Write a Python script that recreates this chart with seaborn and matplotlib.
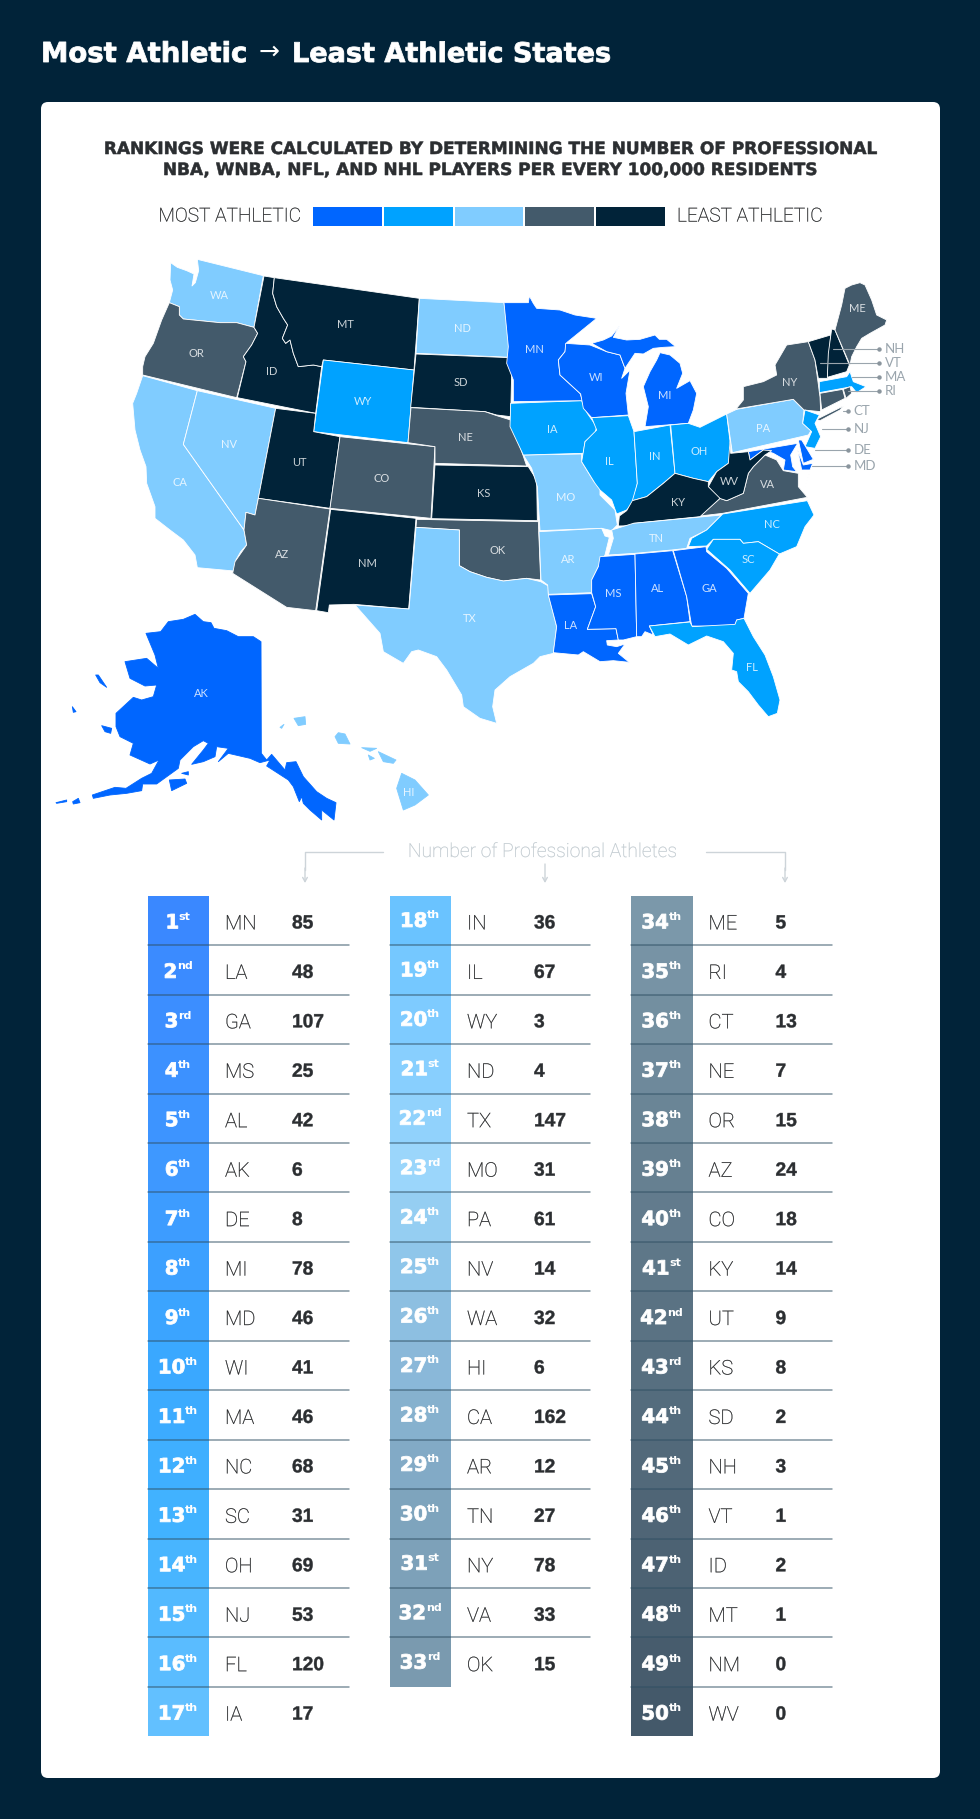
"""
plot.py - Most athletic to least athletic states, map plus ranking table.
"""
import numpy as np
import matplotlib; matplotlib.use("Agg")
import matplotlib.pyplot as plt
import matplotlib.patheffects as pe
from matplotlib.colors import LinearSegmentedColormap, ListedColormap
from matplotlib.patches import FancyBboxPatch
import seaborn as sns

W, H = 980, 1819
NAVY = "#012339"
INK = "#2b2e31"
FONT_LIGHT = "Roboto"
FONT_LABEL = "Lato"
FONT_HEAVY = "DejaVu Sans"
FONT_NUM = "Liberation Sans"

# table data, in rank order
STATES = ["MN", "LA", "GA", "MS", "AL", "AK", "DE", "MI", "MD", "WI", "MA", "NC", "SC", "OH", "NJ", "FL", "IA",
          "IN", "IL", "WY", "ND", "TX", "MO", "PA", "NV", "WA", "HI", "CA", "AR", "TN", "NY", "VA", "OK",
          "ME", "RI", "CT", "NE", "OR", "AZ", "CO", "KY", "UT", "KS", "SD", "NH", "VT", "ID", "MT", "NM", "WV"]
ATHLETES = [85, 48, 107, 25, 42, 6, 8, 78, 46, 41, 46, 68, 31, 69, 53, 120, 17,
            36, 67, 3, 4, 147, 31, 61, 14, 32, 6, 162, 12, 27, 78, 33, 15,
            5, 4, 13, 7, 15, 24, 18, 14, 9, 8, 2, 3, 1, 2, 1, 0, 0]
COLUMN_SIZES = [17, 16, 17]
SUFFIXES = ["st", "nd", "rd"] + ["th"] * 17 + ["st", "nd", "rd"] + ["th"] * 7 + ["st", "nd", "rd"] + ["th"] * 7 \
    + ["st", "nd", "rd"] + ["th"] * 7

TIER_COLORS = ["#0066ff", "#00a2ff", "#80ccff", "#435a6b", "#012339"]
STOP_RANKS = [1, 6, 10, 13, 17, 20, 23, 25, 27, 30, 33, 34, 42, 50]
STOP_COLORS = ["#3a88ff", "#3e98ff", "#3aa8ff", "#41b2ff", "#62c0ff", "#7ecbff", "#9cd6fb", "#8fc6ea", "#8ab8d8",
               "#7ea4bd", "#7a9ab0", "#7b98aa", "#5a7283", "#44596a"]

# state outlines, one dict per crop of the map: (x0, y0) plus 3 units to a pixel
WEST_ORIGIN = (120, 250)
WEST = {
    "WA": [[(152, 38), (172, 52), (200, 62), (222, 72), (216, 108), (226, 98), (236, 62), (232, 28), (430, 77),
            (402, 232), (350, 218), (300, 218), (240, 212), (190, 207), (178, 195), (178, 170), (148, 158),
            (158, 120), (150, 90)]],
    "OR": [[(148, 158), (178, 170), (178, 195), (190, 207), (240, 212), (300, 218), (350, 218), (402, 232), (413, 250),
            (395, 285), (370, 320), (378, 335), (350, 443), (68, 375), (68, 350), (75, 320), (100, 280), (125, 210)]],
    "CA": [[(68, 377), (232, 422), (190, 583), (372, 840), (380, 885), (362, 905), (348, 930), (342, 963), (232, 953),
            (225, 915), (190, 870), (150, 840), (105, 805), (105, 770), (80, 700), (78, 650), (60, 600), (45, 540),
            (38, 460), (50, 430)]],
    "NV": [[(232, 422), (467, 475), (415, 745), (405, 795), (378, 787), (372, 840), (190, 583)]],
    "ID": [[(432, 78), (463, 83), (458, 130), (470, 170), (490, 205), (503, 225), (487, 265), (497, 280), (510, 270),
            (520, 310), (535, 350), (580, 345), (605, 350), (587, 490), (352, 443), (378, 335), (370, 320), (395, 285),
            (413, 250), (402, 232)]],
    "MT": [[(463, 83), (898, 145), (882, 360), (610, 330), (605, 350), (580, 345), (535, 350), (520, 310), (510, 270),
            (497, 280), (487, 265), (503, 225), (490, 205), (470, 170), (458, 130)]],
    "WY": [[(610, 330), (882, 360), (864, 578), (581, 545)]],
    "UT": [[(467, 475), (587, 490), (581, 545), (660, 560), (630, 775), (415, 745)]],
    "CO": [[(660, 560), (945, 590), (933, 805), (630, 775)]],
    "AZ": [[(415, 745), (630, 777), (587, 1082), (500, 1072), (338, 970), (345, 935), (380, 885), (372, 840), (378, 787),
            (405, 795)]],
    "NM": [[(632, 778), (888, 805), (866, 1077), (702, 1063), (628, 1065), (625, 1088), (590, 1082)]],
    "ND": [[(898, 145), (1152, 158), (1172, 322), (888, 310)]],
    "SD": [[(888, 312), (1170, 323), (1165, 345), (1175, 365), (1172, 500), (1130, 495), (1095, 485), (872, 472)]],
    "NE": [[(873, 473), (1095, 485), (1130, 497), (1172, 510), (1190, 560), (1220, 648), (945, 640), (945, 590),
            (864, 578)]],
    "KS": [[(945, 645), (1225, 650), (1250, 690), (1252, 812), (935, 806)]],
}

EAST_ORIGIN = (500, 260)
EAST = {
    "MO": [[(70, 585), (245, 582), (245, 605), (282, 665), (300, 680), (300, 705), (345, 750), (352, 795), (335, 812),
            (305, 805), (120, 812), (112, 680), (95, 625)]],
    "IA": [[(32, 430), (245, 422), (262, 460), (290, 500), (285, 520), (255, 545), (250, 580), (70, 585), (30, 500)]],
    "MN": [[(12, 128), (85, 128), (88, 108), (100, 130), (110, 145), (180, 150), (225, 165), (290, 175), (200, 248),
            (195, 275), (175, 300), (180, 345), (240, 400), (248, 422), (40, 425), (40, 360), (20, 310), (25, 260)]],
    "WI": [[(197, 250), (270, 255), (320, 275), (360, 285), (375, 325), (365, 355), (390, 330), (378, 400), (385, 465),
            (275, 473), (250, 445), (242, 402), (180, 345), (175, 300), (195, 275)]],
    "MI": [[(275, 250), (310, 240), (335, 228), (358, 198), (340, 232), (380, 240), (420, 238), (465, 225), (478, 238),
            (500, 238), (527, 260), (490, 262), (460, 265), (430, 282), (405, 280), (385, 310), (375, 325), (360, 285),
            (320, 275)],
           [(480, 278), (510, 285), (540, 310), (548, 340), (530, 385), (570, 362), (590, 400), (580, 450), (565, 490),
            (435, 500), (445, 440), (430, 380), (450, 335), (470, 300)]],
    "IL": [[(275, 473), (385, 467), (402, 515), (412, 670), (400, 725), (380, 750), (350, 762), (335, 720), (300, 690),
            (285, 670), (245, 605), (255, 545), (290, 510)]],
    "IN": [[(402, 515), (510, 495), (525, 640), (490, 670), (440, 710), (397, 722), (412, 670)]],
    "OH": [[(512, 495), (565, 490), (600, 502), (680, 462), (692, 560), (685, 610), (650, 635), (625, 665), (580, 655),
            (525, 640)]],
    "PA": [[(680, 462), (710, 448), (880, 418), (912, 450), (908, 490), (933, 512), (925, 525), (697, 578)]],
    "NY": [[(708, 447), (730, 420), (730, 380), (790, 365), (830, 345), (825, 315), (860, 255), (925, 245), (945, 300),
            (960, 410), (962, 455), (912, 450), (880, 418)],
           [(950, 478), (1030, 438), (1020, 450), (960, 482)]],
    "VT": [[(925, 245), (992, 225), (982, 355), (955, 355), (945, 300)]],
    "NH": [[(995, 207), (1005, 210), (1048, 315), (1040, 335), (982, 352), (985, 280)]],
    "ME": [[(1005, 210), (1025, 135), (1035, 85), (1055, 75), (1080, 68), (1095, 75), (1115, 120), (1130, 165),
            (1160, 180), (1155, 195), (1110, 220), (1085, 235), (1070, 260), (1055, 290), (1050, 315)]],
    "MA": [[(958, 365), (1040, 350), (1050, 335), (1060, 365), (1098, 380), (1070, 398), (1055, 380), (958, 398)]],
    "CT": [[(960, 400), (1028, 388), (1035, 415), (965, 450)]],
    "RI": [[(1030, 388), (1050, 380), (1055, 400), (1038, 415)]],
    "NJ": [[(915, 450), (958, 465), (945, 490), (962, 530), (945, 565), (915, 560), (935, 515), (908, 490)]],
    "DE": [[(895, 540), (905, 540), (940, 598), (910, 610)]],
    "MD": [[(745, 575), (893, 550), (872, 585), (878, 620), (890, 635), (850, 630), (855, 600), (820, 580), (790, 570),
            (750, 600)],
           [(893, 570), (910, 615), (938, 610), (930, 630), (905, 630)]],
    "VA": [[(600, 768), (660, 715), (680, 722), (730, 700), (745, 640), (760, 620), (795, 585), (830, 600), (850, 632),
            (895, 640), (895, 680), (922, 712), (668, 760)],
           [(930, 635), (915, 680), (928, 640)]],
    "WV": [[(690, 545), (692, 580), (745, 575), (750, 600), (790, 570), (815, 572), (795, 585), (760, 620), (745, 640),
            (730, 700), (680, 722), (650, 712), (625, 680), (650, 635), (685, 610)]],
    "KY": [[(355, 798), (358, 768), (380, 752), (397, 722), (440, 710), (490, 670), (525, 640), (580, 655), (625, 665),
            (625, 680), (660, 715), (600, 770), (400, 790), (398, 797)]],
    "TN": [[(335, 810), (400, 790), (665, 765), (620, 810), (570, 835), (560, 865), (515, 870), (405, 880), (325, 885),
            (340, 835)]],
    "NC": [[(668, 762), (922, 722), (942, 765), (915, 800), (890, 860), (838, 882), (775, 845), (730, 850), (720, 838),
            (640, 838), (620, 858), (565, 860), (575, 835), (620, 810)]],
    "SC": [[(620, 868), (640, 838), (720, 838), (730, 850), (775, 845), (838, 882), (810, 930), (750, 1000), (690, 930)]],
}

SOUTH_ORIGIN = (340, 500)
SOUTH = {
    "OK": [[(230, 58), (595, 65), (602, 240), (560, 235), (490, 243), (440, 232), (390, 215), (358, 197), (358, 90),
            (228, 82)]],
    "TX": [[(228, 82), (358, 90), (358, 197), (390, 215), (440, 232), (490, 243), (560, 235), (602, 245), (625, 258),
            (625, 283), (650, 380), (640, 460), (600, 470), (580, 490), (510, 530), (465, 570), (458, 620), (470, 670),
            (420, 655), (370, 620), (365, 585), (320, 510), (290, 470), (235, 450), (215, 455), (190, 490), (130, 455),
            (120, 400), (45, 315), (207, 327)]],
    "AR": [[(597, 95), (785, 85), (795, 108), (808, 112), (795, 165), (775, 200), (755, 240), (755, 278), (625, 283),
            (623, 255), (603, 240)]],
    "LA": [[(625, 285), (755, 281), (767, 320), (742, 388), (828, 386), (835, 420), (800, 422), (802, 435), (830, 440),
            (855, 432), (835, 460), (868, 487), (820, 482), (780, 485), (730, 455), (715, 465), (640, 458), (650, 380)]],
    "MS": [[(780, 170), (885, 163), (890, 410), (850, 420), (835, 420), (828, 386), (742, 388), (767, 320), (755, 278),
            (755, 240), (775, 200)]],
    "AL": [[(885, 162), (998, 152), (1040, 290), (1050, 365), (928, 378), (940, 405), (915, 395), (905, 410), (890, 410)]],
    "GA": [[(1000, 152), (1098, 140), (1100, 155), (1160, 205), (1225, 280), (1212, 355), (1190, 360), (1185, 380),
            (1055, 378), (1040, 290)]],
    "FL": [[(928, 378), (1050, 366), (1057, 380), (1185, 373), (1190, 360), (1212, 355), (1240, 410), (1275, 465),
            (1300, 530), (1320, 600), (1312, 640), (1285, 650), (1255, 615), (1225, 575), (1195, 545), (1190, 515),
            (1175, 510), (1180, 460), (1150, 425), (1100, 408), (1045, 435), (990, 402), (945, 410)]],
}

PACIFIC_ORIGIN = (40, 580)
PACIFIC = {
    "AK": [[(318, 160), (362, 155), (385, 125), (430, 118), (465, 103), (490, 125), (513, 128), (522, 145), (560, 152),
            (595, 170), (640, 170), (663, 185), (664, 520), (680, 540), (695, 523), (735, 570), (740, 548), (768, 545),
            (790, 590), (830, 635), (860, 655), (888, 668), (882, 720), (845, 690), (845, 720), (810, 690), (790, 670),
            (785, 650), (778, 665), (760, 620), (745, 600), (680, 558), (690, 540), (660, 548), (630, 535), (565, 520),
            (535, 545), (565, 505), (530, 500), (525, 530), (490, 545), (455, 553), (490, 510), (505, 490), (490, 482),
            (460, 500), (420, 540), (415, 565), (350, 612), (308, 612), (305, 632), (260, 640), (210, 645), (160, 655),
            (157, 645), (225, 622), (258, 625), (305, 595), (335, 580), (357, 540), (330, 552), (270, 525), (280, 490),
            (240, 470), (228, 440), (228, 400), (280, 352), (305, 360), (340, 350), (350, 315), (315, 318), (270, 295),
            (255, 245), (320, 235), (355, 265), (345, 225)],
           [(388, 600), (435, 597), (440, 610), (395, 632)],
           [(185, 437), (215, 445), (212, 460), (195, 455)],
           [(167, 285), (175, 285), (200, 322), (180, 308)],
           [(97, 380), (108, 395), (100, 397)],
           [(48, 668), (80, 660), (80, 665), (50, 670)],
           [(98, 665), (115, 655), (120, 668), (100, 672)],
           [(425, 580), (445, 575), (445, 585)]],
    "HI": [[(1085, 580), (1125, 600), (1165, 645), (1125, 675), (1090, 690), (1070, 625)],
           [(1015, 515), (1068, 540), (1060, 550), (1030, 545)],
           [(965, 503), (1010, 505), (990, 514)],
           [(985, 525), (1003, 535), (990, 540)],
           [(895, 458), (915, 462), (930, 492), (895, 490), (885, 470)],
           [(762, 415), (795, 410), (797, 433), (775, 437)],
           [(720, 442), (732, 433), (725, 445)]],
}

MAP_GROUPS = [(WEST_ORIGIN, WEST), (EAST_ORIGIN, EAST), (SOUTH_ORIGIN, SOUTH), (PACIFIC_ORIGIN, PACIFIC)]

# label spots, same crops as above
WEST_LABELS = {"WA": (297, 137), "MT": (677, 223), "ND": (1027, 237), "OR": (228, 311), "ID": (456, 365),
               "SD": (1022, 398), "WY": (728, 455), "NE": (1037, 561), "NV": (328, 582), "UT": (538, 638),
               "CO": (786, 685), "CA": (180, 697), "KS": (1092, 731), "AZ": (485, 912), "NM": (742, 941)}
EAST_LABELS = {"MN": (102, 268), "WI": (288, 352), "MI": (494, 407), "ME": (1073, 145), "NY": (870, 369),
               "IA": (157, 509), "IL": (327, 605), "IN": (465, 588), "OH": (596, 574), "PA": (788, 505),
               "MO": (197, 713), "WV": (688, 664), "VA": (802, 673), "KY": (533, 728), "NC": (815, 792),
               "TN": (469, 835), "AR": (203, 898), "SC": (745, 898), "MS": (341, 1000), "AL": (474, 985),
               "GA": (629, 985), "LA": (212, 1095)}
SOUTH_LABELS = {"OK": (472, 150), "TX": (388, 355), "FL": (1236, 502)}
PACIFIC_LABELS = {"AK": (483, 339), "HI": (1107, 637)}
LABEL_GROUPS = [(WEST_ORIGIN, WEST_LABELS), (EAST_ORIGIN, EAST_LABELS), (SOUTH_ORIGIN, SOUTH_LABELS),
                (PACIFIC_ORIGIN, PACIFIC_LABELS)]

# small north-east states labelled outside the map: name, line start x, y (east crop)
CALLOUT_NAMES = ["NH", "VT", "MA", "RI", "CT", "NJ", "DE", "MD"]
CALLOUT_STARTS = [1000, 960, 1055, 1045, 1030, 965, 945, 935]
CALLOUT_ROWS = [268, 310, 352, 393, 452, 506, 571, 618]
CALLOUT_ENDS = [1138, 1138, 1138, 1138, 1045, 1045, 1045, 1045]

# table layout, pixels
TABLE_TOP = 895.7
ROW_H = 49.45
COL_LEFT = [147.5, 389.5, 631]
STRIP_W = 61.5
COL_RIGHT = [349, 590, 832]
RANK_SHIFT = [2.5, 1, 2.5]


def to_px(origin, pt):
    return origin[0] + pt[0] / 3, origin[1] + pt[1] / 3


def pixel_axes(fig, x0, y0, x1, y1):
    """Axes placed by pixel box, y counted from the top of the picture."""
    return fig.add_axes([x0 / W, 1 - y1 / H, (x1 - x0) / W, (y1 - y0) / H])


def heavy(width, color):
    # snap off, or glyphs made only of straight stems (HI, FL) come out thin
    return [pe.Stroke(linewidth=width, foreground=color, snap=False)]


def draw_header(ax):
    ax.text(41, 62, "Most Athletic", color="white", fontsize=19.8, fontweight="bold", family=FONT_HEAVY, va="baseline",
            path_effects=heavy(0.6, "white"))
    ax.text(269, 52, "\u2192", color="white", fontsize=18, family="DejaVu Sans", ha="center", va="center",
            fontweight="normal")
    ax.text(292, 62, "Least Athletic States", color="white", fontsize=19.5, fontweight="bold", family=FONT_HEAVY,
            va="baseline", path_effects=heavy(0.6, "white"))
    ax.add_patch(FancyBboxPatch((47, 108), 887, 1664, boxstyle="round,pad=6,rounding_size=7", fc="white", ec="none"))
    ax.text(488, 149, "RANKINGS WERE CALCULATED BY DETERMINING THE NUMBER OF PROFESSIONAL", color=INK, fontsize=12.2,
            fontweight="bold", family=FONT_HEAVY, ha="center", va="center", path_effects=heavy(0.4, INK))
    ax.text(488, 170, "NBA, WNBA, NFL, AND NHL PLAYERS PER EVERY 100,000 RESIDENTS", color=INK, fontsize=12.2,
            fontweight="bold", family=FONT_HEAVY, ha="center", va="center", path_effects=heavy(0.4, INK))
    ax.text(301, 216.5, "MOST ATHLETIC", color="#1c1e20", fontsize=13.8, fontweight="light", family=FONT_LIGHT,
            ha="right", va="center", path_effects=heavy(0.2, "#1c1e20"))
    ax.text(677, 216.5, "LEAST ATHLETIC", color="#1c1e20", fontsize=13.8, fontweight="light", family=FONT_LIGHT,
            ha="left", va="center", path_effects=heavy(0.2, "#1c1e20"))


def draw_legend(fig):
    lax = pixel_axes(fig, 312, 206, 666, 227)
    sns.heatmap(np.arange(5).reshape(1, 5), ax=lax, cmap=ListedColormap(TIER_COLORS), cbar=False, xticklabels=False,
                yticklabels=False, linewidths=1.2, linecolor="white")
    lax.set_zorder(3)


def draw_map(ax):
    tier = {s: i // 10 for i, s in enumerate(STATES)}
    for origin, group in MAP_GROUPS:
        for state, rings in group.items():
            for ring in rings:
                pts = np.array([to_px(origin, p) for p in ring])
                face = TIER_COLORS[tier[state]]
                edge = face if origin == PACIFIC_ORIGIN else "white"
                ax.fill(pts[:, 0], pts[:, 1], fc=face, ec=edge, lw=0.6, joinstyle="round", zorder=2)
    for origin, labels in LABEL_GROUPS:
        for state, spot in labels.items():
            x, y = to_px(origin, spot)
            ax.text(x, y, state, color="white", alpha=0.8, fontsize=8, family=FONT_LABEL, ha="center", va="center",
                    zorder=3)
    for name, x0, row, x1 in zip(CALLOUT_NAMES, CALLOUT_STARTS, CALLOUT_ROWS, CALLOUT_ENDS):
        xs, y = to_px(EAST_ORIGIN, (x0, row))
        xe, _ = to_px(EAST_ORIGIN, (x1, row))
        ax.plot([xs, xe], [y, y], color="#9aa5ad", lw=0.8, zorder=4)
        ax.plot([xe], [y], "o", color="#8a959d", ms=2.2, zorder=4)
        ax.text(xe + 5.5, y, name, color="#9aa5ad", fontsize=9.5, family=FONT_LABEL, ha="left", va="center", zorder=4)


def draw_table_head(ax):
    grey = "#cdd4d9"
    ax.text(542.5, 852, "Number of Professional Athletes", color="#bcc6cc", fontsize=13.9, fontweight="light",
            family=FONT_LIGHT, ha="center", va="center", path_effects=heavy(0.15, "#bcc6cc"))
    arrow = dict(arrowstyle="->,head_length=0.25,head_width=0.14", color=grey, lw=1, shrinkA=0, shrinkB=0)
    ax.plot([382.5, 305, 305], [852, 852, 870], color=grey, lw=1)
    ax.annotate("", xy=(305, 883), xytext=(305, 868), arrowprops=arrow)
    ax.annotate("", xy=(545, 883), xytext=(545, 864), arrowprops=arrow)
    ax.plot([706, 785, 785], [852, 852, 870], color=grey, lw=1)
    ax.annotate("", xy=(785, 883), xytext=(785, 868), arrowprops=arrow)


def draw_table(fig, ax):
    stops = [((r - 1) / 49, c) for r, c in zip(STOP_RANKS, STOP_COLORS)]
    cmap = LinearSegmentedColormap.from_list("ranks", stops)
    renderer = fig.canvas.get_renderer()
    start = 0
    for col, size in enumerate(COLUMN_SIZES):
        ranks = np.arange(start + 1, start + size + 1)
        left, right = COL_LEFT[col], COL_RIGHT[col]
        strip = pixel_axes(fig, left, TABLE_TOP, left + STRIP_W, TABLE_TOP + size * ROW_H)
        sns.heatmap(ranks.reshape(-1, 1), ax=strip, cmap=cmap, vmin=1, vmax=50, cbar=False, xticklabels=False,
                    yticklabels=False)
        strip.set_zorder(1)
        ax.set_zorder(2)
        for row, rank in enumerate(ranks):
            idx = rank - 1
            y = TABLE_TOP + (row + 0.5) * ROW_H
            num = ax.text(0, y + RANK_SHIFT[col], str(rank), color="white", fontsize=14.2, fontweight="bold",
                          family=FONT_HEAVY, va="center", ha="left", path_effects=heavy(0.6, "white"))
            sup = ax.text(0, y + RANK_SHIFT[col] - 6, SUFFIXES[idx], color="white", fontsize=8, fontweight="bold",
                          family=FONT_HEAVY, va="center", ha="left")
            w1 = num.get_window_extent(renderer).width
            w2 = sup.get_window_extent(renderer).width
            x0 = left + STRIP_W / 2 - (w1 + w2) / 2
            num.set_x(x0)
            sup.set_x(x0 + w1 - 0.5)
            ax.text(left + 77.5, y + 3.5, STATES[idx], color="#1c1e20", fontsize=14.5, fontweight="light",
                    family=FONT_LIGHT, va="center", ha="left", path_effects=heavy(0.2, "#1c1e20"))
            ax.text(left + 144.5, y + 3.5, str(ATHLETES[idx]), color=INK, fontsize=13.8, fontweight="bold", family=FONT_NUM,
                    va="center", ha="left", path_effects=heavy(0.3, INK))
            if row < size - 1:
                ax.plot([left, right], [TABLE_TOP + (row + 1) * ROW_H] * 2, color="#2f4f63", alpha=0.6, lw=1.1)
        start += size


def main():
    sns.set_theme(style="white")
    fig = plt.figure(figsize=(W / 100, H / 100), dpi=100, facecolor=NAVY)
    ax = fig.add_axes([0, 0, 1, 1])
    ax.set_xlim(0, W)
    ax.set_ylim(H, 0)
    ax.axis("off")

    card = pixel_axes(fig, 0, 0, W, H)
    card.set_xlim(0, W)
    card.set_ylim(H, 0)
    card.axis("off")
    card.set_zorder(0)
    draw_header(card)

    ax.patch.set_alpha(0)
    draw_legend(fig)
    draw_map(ax)
    draw_table_head(ax)
    draw_table(fig, ax)

    fig.savefig("out.png", dpi=100, facecolor=NAVY)
    plt.close(fig)


if __name__ == "__main__":
    main()
